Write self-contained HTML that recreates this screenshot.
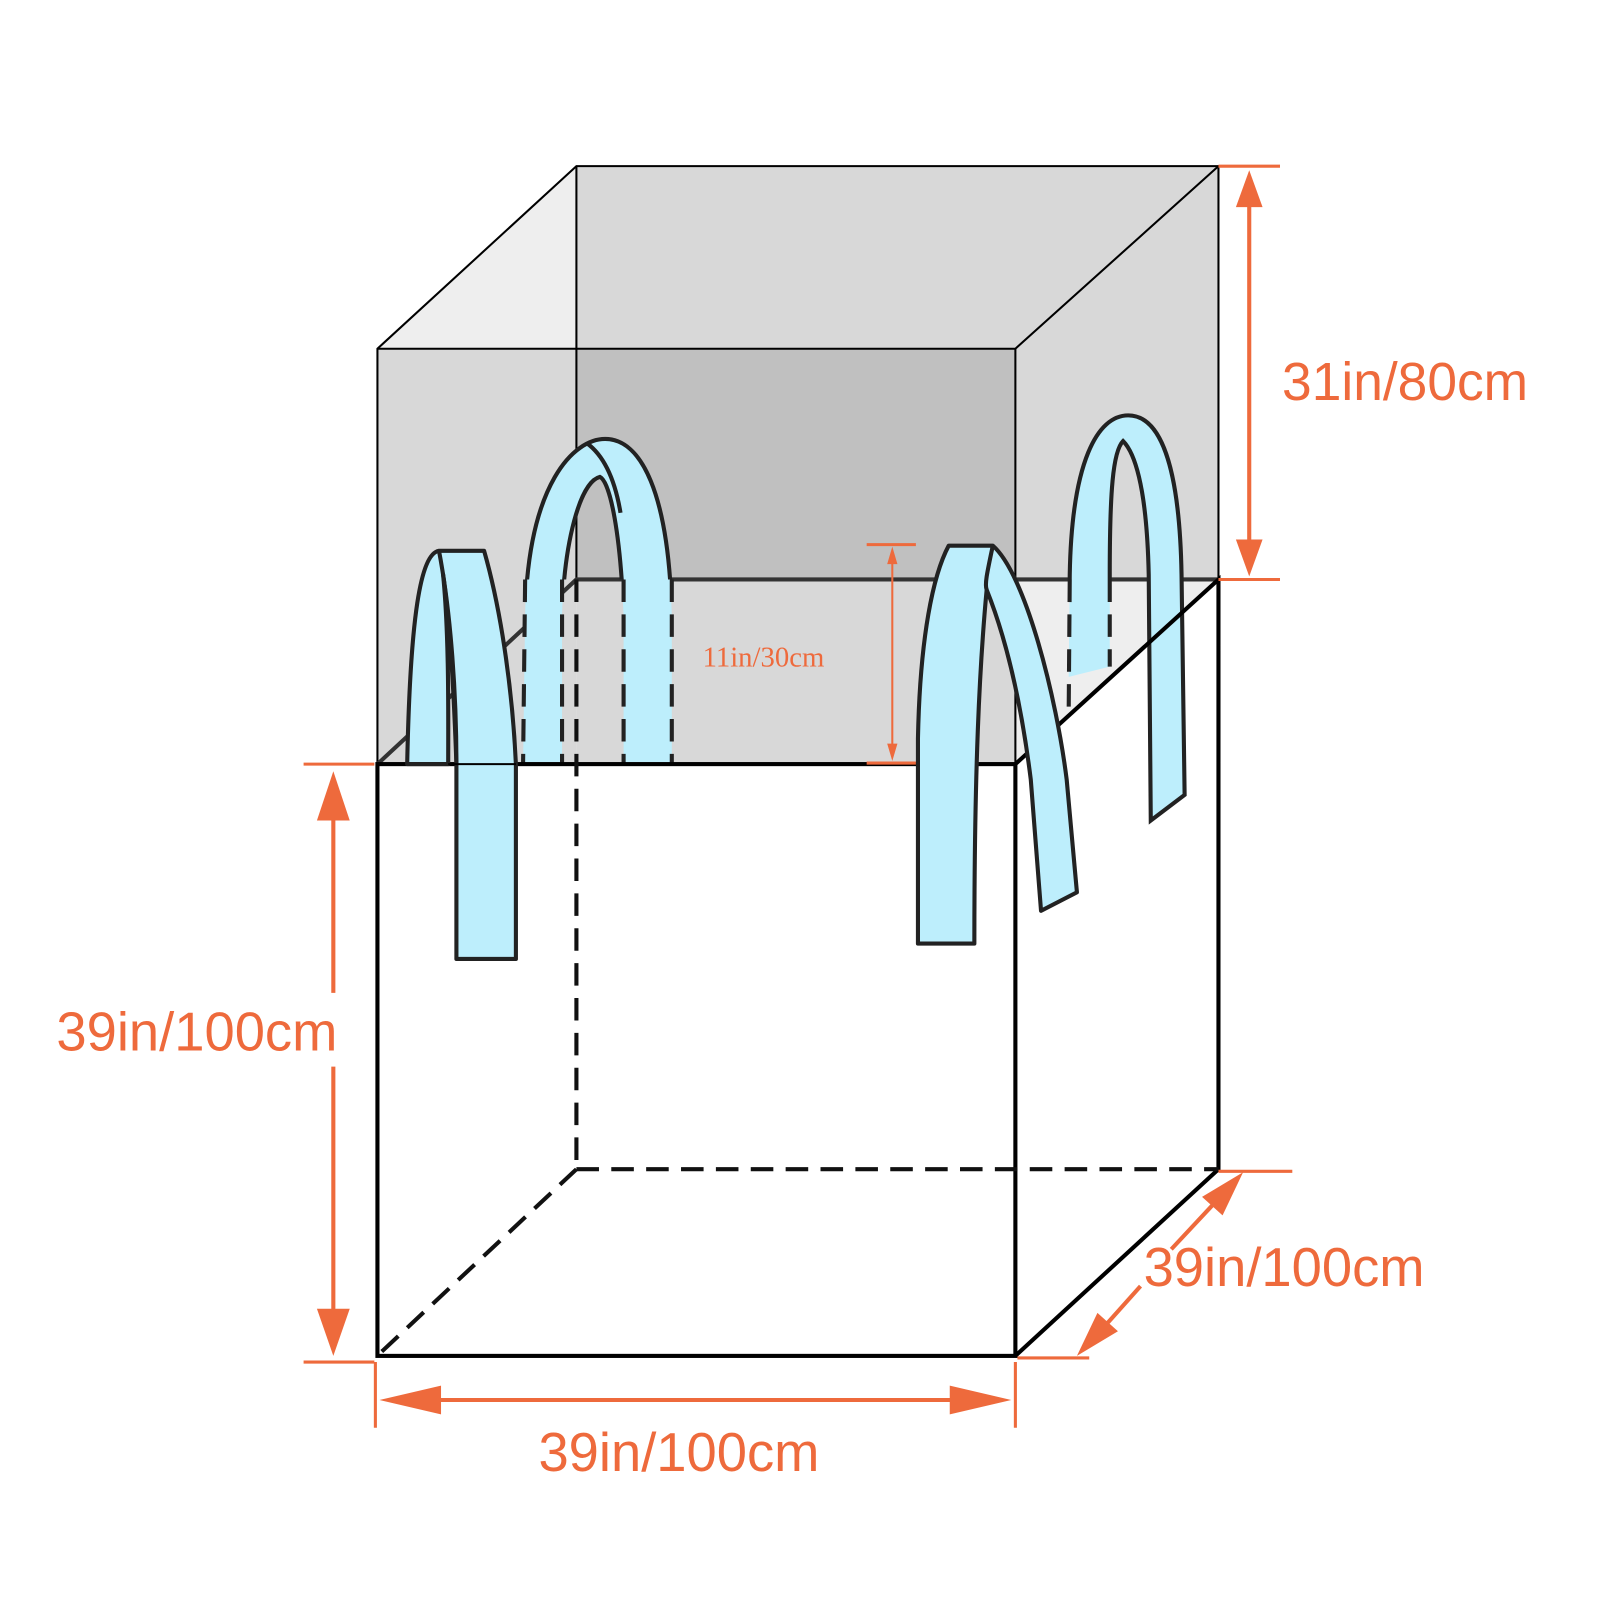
<!DOCTYPE html>
<html><head><meta charset="utf-8"><style>html,body{margin:0;padding:0;background:#fff}svg{display:block}</style></head>
<body>
<svg width="1600" height="1600" viewBox="0 0 1560 1560" xmlns="http://www.w3.org/2000/svg">
<defs>
<clipPath id="top"><rect x="0" y="0" width="1560" height="565"/></clipPath>
<clipPath id="bot"><rect x="0" y="565" width="1560" height="200"/></clipPath>
<clipPath id="topL"><rect x="0" y="0" width="1560" height="565"/><rect x="1100" y="0" width="460" height="1000"/></clipPath>
<clipPath id="botL"><rect x="0" y="565" width="1100" height="200"/></clipPath>
</defs>
<polygon points="368,340 562,162 562,565 368,745" fill="#d8d8d8"/>
<polygon points="368,340 562,162 562,340" fill="#eeeeee"/>
<rect x="562" y="162" width="626" height="178" fill="#d8d8d8"/>
<rect x="562" y="340" width="428" height="225" fill="#c0c0c0"/>
<polygon points="990,340 1188,162 1188,565 990,745" fill="#d8d8d8"/>
<rect x="562" y="565" width="428" height="180" fill="#d8d8d8"/>
<polygon points="368,745 562,565 562,745" fill="#d8d8d8"/>
<polygon points="990,745 990,565 1188,565" fill="#eeeeee"/>
<g fill="none" stroke="#000" stroke-width="2">
<polyline points="368,745 368,340 562,162 1188,162 1188,565"/>
<polyline points="368,340 990,340 1188,162"/>
<line x1="562" y1="162" x2="562" y2="565"/>
<line x1="990" y1="340" x2="990" y2="745"/>
</g>
<g fill="none" stroke="#333" stroke-width="4">
<polyline points="368,745 562,565 1188,565"/>
</g>
<path d="M510,745 L512,600 C515,470 560,428 590,428 C625,428 652,480 655,600 L655,745 L608,745 L608,600 C605,520 595,470 585,465 C565,470 550,530 548,600 L548,745 Z" fill="#bdeefc"/>
<path clip-path="url(#top)" d="M510,745 L512,600 C515,470 560,428 590,428 C625,428 652,480 655,600 L655,745 M608,745 L608,600 C605,520 595,470 585,465 C565,470 550,530 548,600 L548,745 M572,432 C590,445 600,470 605,500" fill="none" stroke="#222" stroke-width="4"/>
<path clip-path="url(#bot)" d="M512,565 L510,745 M548,565 L548,745 M608,565 L608,745 M655,565 L655,745" fill="none" stroke="#222" stroke-width="4" stroke-dasharray="22,12"/>
<path d="M1042,660 L1043,560 C1045,450 1070,405 1100,405 C1130,405 1150,450 1152,560 L1155,775 L1122,800 L1120,560 C1118,470 1105,440 1095,430 C1085,440 1082,480 1082,560 L1082,650 Z" fill="#bdeefc"/>
<path clip-path="url(#topL)" d="M1042,660 L1043,560 C1045,450 1070,405 1100,405 C1130,405 1150,450 1152,560 L1155,775 L1122,800 L1120,560 C1118,470 1105,440 1095,430 C1085,440 1082,480 1082,560 L1082,650" fill="none" stroke="#222" stroke-width="4"/>
<path clip-path="url(#botL)" d="M1043,565 L1042,690 M1082,565 L1082,650" fill="none" stroke="#222" stroke-width="4" stroke-dasharray="22,12"/>
<g fill="none" stroke="#000" stroke-width="4">
<rect x="368" y="745" width="622" height="577"/>
<polyline points="990,745 1188,565 1188,1140 990,1322"/>
</g>
<g fill="none" stroke="#111" stroke-width="4" stroke-dasharray="22,12">
<line x1="562" y1="565" x2="562" y2="1140"/>
<line x1="562" y1="1140" x2="1188" y2="1140"/>
<line x1="562" y1="1140" x2="372" y2="1318"/>
</g>
<path d="M397,745 C400,600 410,540 428,537 L472,537 C490,600 500,680 503,745 L503,935 L445,935 L445,745 C442,660 438,600 432,560 C438,620 437,700 437,745 Z" fill="#bdeefc" stroke="#222" stroke-width="4" stroke-linejoin="round"/>
<path d="M428,537 C440,600 445,680 445,745" fill="none" stroke="#222" stroke-width="4"/>
<line x1="437" y1="745" x2="503" y2="745" stroke="#000" stroke-width="2"/>
<path d="M895,920 L895,720 C897,620 910,560 925,532 L968,532 C1000,560 1030,680 1040,760 L1050,870 L1015,888 L1005,760 C995,680 980,620 962,575 C955,650 950,750 950,920 Z" fill="#bdeefc" stroke="#222" stroke-width="4" stroke-linejoin="round"/>
<path d="M968,532 C962,560 960,570 962,575" fill="none" stroke="#222" stroke-width="4"/>
<g stroke="#ee6a3c" fill="#ee6a3c" font-family="'Liberation Sans', sans-serif">
<line x1="296" y1="745" x2="365" y2="745" stroke-width="3"/>
<line x1="296" y1="1328" x2="365" y2="1328" stroke-width="3"/>
<line x1="325" y1="790" x2="325" y2="968" stroke-width="4"/>
<line x1="325" y1="1040" x2="325" y2="1290" stroke-width="4"/>
<polygon points="325,752 309,800 341,800" stroke="none"/>
<polygon points="325,1322 309,1276 341,1276" stroke="none"/>
<text x="55" y="1024" font-size="53" stroke="none">39in/100cm</text>

<line x1="1188" y1="162" x2="1248" y2="162" stroke-width="3"/>
<line x1="1188" y1="565" x2="1248" y2="565" stroke-width="3"/>
<line x1="1218" y1="190" x2="1218" y2="540" stroke-width="4"/>
<polygon points="1218,166 1205,202 1231,202" stroke="none"/>
<polygon points="1218,562 1205,526 1231,526" stroke="none"/>
<text x="1250" y="390" font-size="52" stroke="none">31in/80cm</text>

<line x1="366" y1="1328" x2="366" y2="1392" stroke-width="3"/>
<line x1="990" y1="1328" x2="990" y2="1392" stroke-width="3"/>
<line x1="420" y1="1365" x2="940" y2="1365" stroke-width="4"/>
<polygon points="370,1365 430,1351 430,1379" stroke="none"/>
<polygon points="986,1365 926,1351 926,1379" stroke="none"/>
<text x="525" y="1434" font-size="53" stroke="none">39in/100cm</text>

<line x1="1188" y1="1142" x2="1260" y2="1142" stroke-width="3"/>
<line x1="992" y1="1324" x2="1062" y2="1324" stroke-width="3"/>
<line x1="1185" y1="1172" x2="1142" y2="1218" stroke-width="4"/>
<line x1="1112" y1="1254" x2="1078" y2="1292" stroke-width="4"/>
<polygon points="1212,1143 1192,1185 1172,1167" stroke="none"/>
<polygon points="1050,1322 1090,1298 1070,1280" stroke="none"/>
<text x="1115" y="1254" font-size="53" stroke="none">39in/100cm</text>

<line x1="845" y1="531" x2="893" y2="531" stroke-width="3"/>
<line x1="845" y1="744" x2="893" y2="744" stroke-width="3"/>
<line x1="870" y1="540" x2="870" y2="736" stroke-width="2"/>
<polygon points="870,533 865,550 875,550" stroke="none"/>
<polygon points="870,742 865,725 875,725" stroke="none"/>
<text x="685" y="650" font-size="28" font-family="'Liberation Serif', serif" stroke="none">11in/30cm</text>
</g>
</svg>
</body></html>
